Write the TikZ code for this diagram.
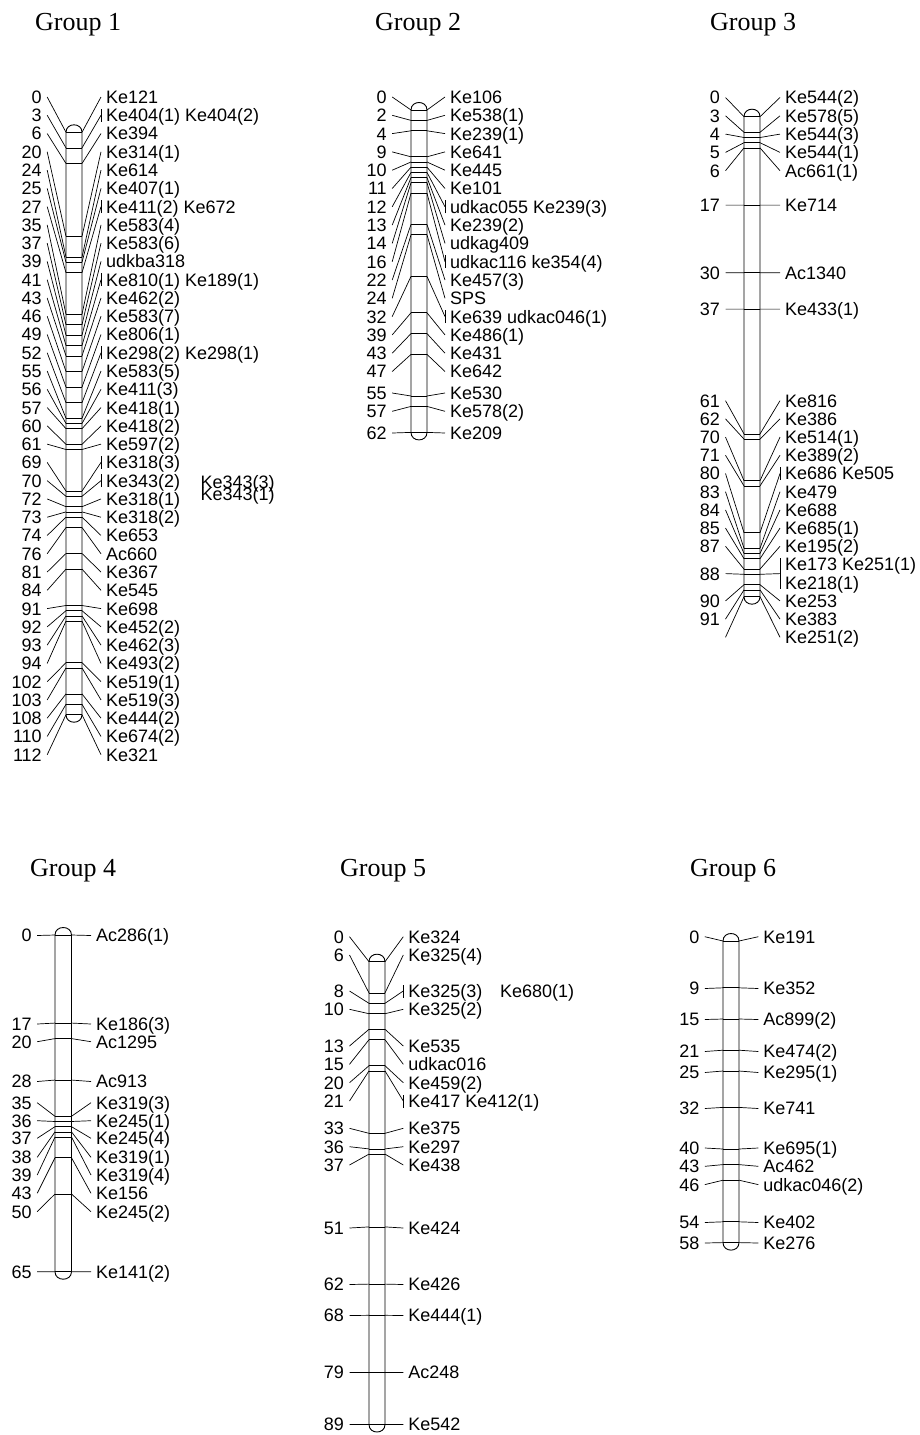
\documentclass[tikz,border=0pt]{standalone}
\usepackage{fontspec}
\newfontfamily\labfont{Liberation Sans}
\newfontfamily\ttlfont{Liberation Serif}
\tikzset{
  numlab/.style={anchor=east, inner xsep=5.5pt, inner ysep=0pt, outer sep=0pt, text height=12.9pt, text depth=0pt, font=\labfont\fontsize{18}{18}\selectfont},
  namelab/.style={anchor=west, inner xsep=5pt, inner ysep=0pt, outer sep=0pt, text height=12.9pt, text depth=0pt, font=\labfont\fontsize{18}{18}\selectfont},
  conn/.style={line width=0.7pt},
  chrom/.style={line width=0.9pt, fill=white},
  grptitle/.style={anchor=base west, inner sep=0pt, font=\ttlfont\fontsize{26}{26}\selectfont}
}
\newcommand{\cbar}{%
  \pgfmathsetmacro\gbot{\gtop+\gs*\gmax}%
  \draw[chrom] (\gL,\gtop) .. controls (\gL,\gtop-10) and (\gR,\gtop-10) .. (\gR,\gtop) -- (\gR,\gbot) .. controls (\gR,\gbot+10) and (\gL,\gbot+10) .. (\gL,\gbot) -- cycle;}
\newcommand{\cmarkers}[2]{%
  \foreach \p/\ly/\b/\num/\name [count=\i] in {#2} {
    \pgfmathsetmacro{\my}{\gtop+\gs*\p}
    \coordinate (#1a\i) at (\gL,\my);
    \coordinate (#1b\i) at (\gR,\my);
    \draw[conn] (#1a\i) -- (#1b\i);
    \node[numlab] (#1n\i) at (\gNE,\ly) {\num};
    \node[namelab] (#1m\i) at (\gNW,\ly) {\name};
    \draw[conn] (#1n\i.east) -- (#1a\i);
    \draw[conn] (#1b\i) -- (#1m\i.west);
    \ifnum\b=1 \draw[conn] ([yshift=-6.5pt]#1m\i.west) -- ([yshift=6.5pt]#1m\i.west);\fi
  }}
\begin{document}
\begin{tikzpicture}[x=1pt,y=-1pt]
\useasboundingbox (0,0) rectangle (920,1435);
\fill[white] (0,0) rectangle (920,1435);

% titles
\node[grptitle] (t1) at (35,30) {Group 1};
\node[grptitle] (t2) at (375,30) {Group 2};
\node[grptitle] (t3) at (710,30) {Group 3};
\node[grptitle] (t4) at (30,876) {Group 4};
\node[grptitle] (t5) at (340,876) {Group 5};
\node[grptitle] (t6) at (690,876) {Group 6};

% Group 1
\def\gL{66}\def\gR{82}\def\gtop{132.3}\def\gs{5.2}\def\gmax{112}\def\gNE{47.2}\def\gNW{101}
\cbar
\cmarkers{g1}{0/97/0/0/Ke121,
3/115.27/1/3/Ke404(1) Ke404(2),
6/133.54/0/6/Ke394,
20/151.81/0/20/Ke314(1),
24/170.08/0/24/Ke614,
25/188.35/0/25/Ke407(1),
27/206.62/1/27/Ke411(2) Ke672,
35/224.89/0/35/Ke583(4),
37/243.16/0/37/Ke583(6),
39/261.43/0/39/udkba318,
41/279.7/1/41/Ke810(1) Ke189(1),
43/297.97/0/43/Ke462(2),
46/316.24/0/46/Ke583(7),
49/334.51/0/49/Ke806(1),
52/352.78/1/52/Ke298(2) Ke298(1),
55/371.05/0/55/Ke583(5),
56/389.32/0/56/Ke411(3),
57/407.59/0/57/Ke418(1),
60/425.86/0/60/Ke418(2),
61/444.13/0/61/Ke597(2),
69/462.4/1/69/Ke318(3),
70/480.67/1/70/Ke343(2),
72/498.94/0/72/Ke318(1),
73/517.21/0/73/Ke318(2),
74/535.48/0/74/Ke653,
76/553.75/0/76/Ac660,
81/572.02/0/81/Ke367,
84/590.29/0/84/Ke545,
91/608.56/0/91/Ke698,
92/626.83/0/92/Ke452(2),
93/645.1/0/93/Ke462(3),
94/663.37/0/94/Ke493(2),
102/681.64/0/102/Ke519(1),
103/699.91/0/103/Ke519(3),
108/718.18/0/108/Ke444(2),
110/736.45/0/110/Ke674(2),
112/754.72/0/112/Ke321}
\node[namelab] (g1x1) at (195.7,481.7) {Ke343(3)};
\node[namelab] (g1x2) at (195.7,494) {Ke343(1)};

% Group 2
\def\gL{411}\def\gR{427}\def\gtop{110}\def\gs{5.2}\def\gmax{62}\def\gNE{392.2}\def\gNW{445}
\cbar
\cmarkers{g2}{0/97/0/0/Ke106,
2/115.3/0/2/Ke538(1),
4/133.6/0/4/Ke239(1),
9/151.9/0/9/Ke641,
10/170.2/0/10/Ke445,
11/188.5/0/11/Ke101,
12/206.8/1/12/udkac055 Ke239(3),
13/225.1/0/13/Ke239(2),
14/243.4/0/14/udkag409,
16/261.7/1/16/udkac116 ke354(4),
22/280/0/22/Ke457(3),
24/298.3/0/24/SPS,
32/316.6/1/32/Ke639 udkac046(1),
39/334.9/0/39/Ke486(1),
43/353.2/0/43/Ke431,
47/371.5/0/47/Ke642,
55/393/0/55/Ke530,
57/411.3/0/57/Ke578(2),
62/433/0/62/Ke209}

% Group 3
\def\gL{744}\def\gR{760}\def\gtop{116.7}\def\gs{5.2}\def\gmax{92.3}\def\gNE{725.5}\def\gNW{780}
\cbar
\cmarkers{g3}{0/97.5/0/0/Ke544(2),
3/115.8/0/3/Ke578(5),
4/134.1/0/4/Ke544(3),
5/152.4/0/5/Ke544(1),
6/170.7/0/6/Ac661(1),
17/205.1/0/17/Ke714,
30/272.7/0/30/Ac1340,
37/309.1/0/37/Ke433(1),
61/400.7/0/61/Ke816,
62/418.9/0/62/Ke386,
70/437.1/0/70/Ke514(1),
71/455.3/0/71/Ke389(2),
80/473.5/1/80/Ke686 Ke505,
83/491.7/0/83/Ke479,
84/509.9/0/84/Ke688,
85/528.1/0/85/Ke685(1),
87/546.3/0/87/Ke195(2),
90/600.9/0/90/Ke253,
91/619.1/0/91/Ke383,
92.3/637.3/0/{}/Ke251(2)}
\coordinate (g3a88) at (744,574.3);
\coordinate (g3b88) at (760,574.3);
\coordinate (g3c88) at (780,573.6);
\draw[conn] (g3a88) -- (g3b88);
\node[numlab] (g3n88) at (725.5,573.6) {88};
\draw[conn] (g3n88.east) -- (g3a88);
\draw[conn] (g3b88) -- (g3c88);
\coordinate (g3d88) at (780,558.3);
\coordinate (g3e88) at (780,589.3);
\draw[conn] (g3d88) -- (g3e88);
\node[namelab] (g3m88a) at (780,564.5) {Ke173 Ke251(1)};
\node[namelab] (g3m88b) at (780,582.7) {Ke218(1)};

% Group 4
\def\gL{55}\def\gR{71.5}\def\gtop{935}\def\gs{5.18}\def\gmax{65}\def\gNE{37.2}\def\gNW{91}
\cbar
\cmarkers{g4}{0/935.5/0/0/Ac286(1),
17/1024/0/17/Ke186(3),
20/1041.7/0/20/Ac1295,
28/1081.5/0/28/Ac913,
35/1102.7/0/35/Ke319(3),
36/1120.7/0/36/Ke245(1),
37/1138.3/0/37/Ke245(4),
38/1157.3/0/38/Ke319(1),
39/1175/0/39/Ke319(4),
43/1193.3/0/43/Ke156,
50/1211.7/0/50/Ke245(2),
65/1271.7/0/65/Ke141(2)}

% Group 5
\def\gL{369}\def\gR{385}\def\gtop{961.7}\def\gs{5.2}\def\gmax{89}\def\gNE{349.5}\def\gNW{403.3}
\cbar
\cmarkers{g5}{0/936.7/0/0/Ke324,
6/955/0/6/Ke325(4),
8/991/1/8/Ke325(3),
10/1009.3/0/10/Ke325(2),
13/1046/0/13/Ke535,
15/1064.3/0/15/udkac016,
20/1082.7/0/20/Ke459(2),
21/1101/1/21/Ke417 Ke412(1),
33/1128.3/0/33/Ke375,
36/1146.7/0/36/Ke297,
37/1165/0/37/Ke438,
51/1228/0/51/Ke424,
62/1284.5/0/62/Ke426,
68/1315.5/0/68/Ke444(1),
79/1372.5/0/79/Ac248,
89/1424.5/0/89/Ke542}
\node[namelab] (g5x1) at (495,991) {Ke680(1)};

% Group 6
\def\gL{723}\def\gR{739}\def\gtop{941}\def\gs{5.2}\def\gmax{58}\def\gNE{704.8}\def\gNW{758.3}
\cbar
\cmarkers{g6}{0/936.7/0/0/Ke191,
9/988.5/0/9/Ke352,
15/1019.5/0/15/Ac899(2),
21/1051.5/0/21/Ke474(2),
25/1072.5/0/25/Ke295(1),
32/1108.5/0/32/Ke741,
40/1148/0/40/Ke695(1),
43/1166.3/0/43/Ac462,
46/1184.6/0/46/udkac046(2),
54/1222.5/0/54/Ke402,
58/1243/0/58/Ke276}
\end{tikzpicture}
\end{document}
